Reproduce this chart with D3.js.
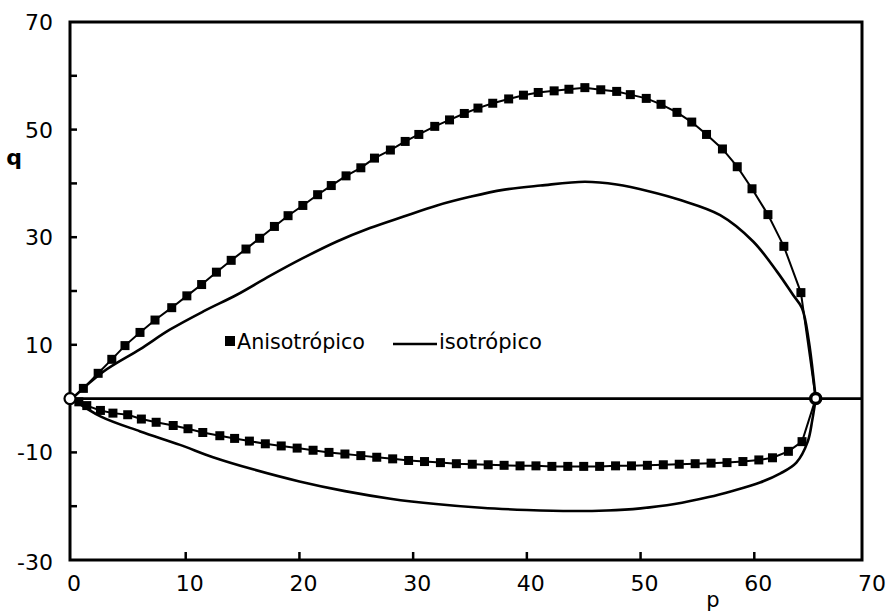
<!DOCTYPE html>
<html>
<head>
<meta charset="utf-8">
<script src="https://cdn.jsdelivr.net/npm/d3@7/dist/d3.min.js"></script>
<style>
  html, body { margin: 0; padding: 0; background: #fff; }
  svg { display: block; }
  text { font-family: "DejaVu Sans", "Open Sans", sans-serif; fill: #000; }
</style>
</head>
<body>
<svg id="chart" width="888" height="612"></svg>
<script>
// ---- data ----
const xTicks = [0, 10, 20, 30, 40, 50, 60, 70];
const yTickLabels = [70, 50, 30, 10, -10, -30];
const yMinorTicks = [60, 50, 40, 30, 20, 10, -10, -20];

// Anisotropic, upper branch (square markers)
const anisoUpperP = [0, 1.0, 2.3, 3.5, 4.66, 5.98, 7.3, 8.77, 10.1, 11.4, 12.7, 14.0, 15.3, 16.5, 17.8, 19.0, 20.3, 21.6, 22.8, 24.1, 25.4, 26.6, 28.0, 29.3, 30.5, 31.9, 33.2, 34.5, 35.7, 37.0, 38.4, 39.7, 41.0, 42.4, 43.7, 45.1, 46.5, 47.9, 49.1, 50.5, 51.8, 53.2, 54.5, 55.8, 57.2, 58.5, 59.8, 61.2, 62.6, 64.1, 65.4];
const anisoUpperQ = [0, 1.9, 4.7, 7.3, 9.85, 12.3, 14.6, 16.9, 19.1, 21.2, 23.5, 25.7, 27.8, 29.8, 32.0, 34.0, 35.9, 37.9, 39.6, 41.4, 42.9, 44.7, 46.2, 47.8, 49.1, 50.6, 51.8, 53.0, 54.0, 54.9, 55.7, 56.4, 56.9, 57.2, 57.5, 57.8, 57.4, 57.1, 56.5, 55.8, 54.7, 53.2, 51.4, 49.1, 46.4, 43.1, 39.0, 34.2, 28.3, 19.7, 0];

// Anisotropic, lower branch (square markers)
const anisoLowerP = [0, 0.6, 1.3, 2.5, 3.6, 4.9, 6.1, 7.4, 8.9, 10.2, 11.5, 13.0, 14.3, 15.6, 17.0, 18.4, 19.8, 21.2, 22.6, 24.0, 25.4, 26.8, 28.2, 29.6, 31.0, 32.4, 33.8, 35.2, 36.6, 38.0, 39.4, 40.8, 42.2, 43.6, 45.0, 46.4, 47.8, 49.2, 50.6, 52.0, 53.4, 54.8, 56.2, 57.6, 59.0, 60.4, 61.6, 63.0, 64.2, 65.4];
const anisoLowerQ = [0, -0.6, -1.3, -2.2, -2.7, -3.0, -3.8, -4.4, -5.0, -5.6, -6.3, -6.9, -7.4, -7.9, -8.4, -8.8, -9.2, -9.6, -10.0, -10.3, -10.6, -10.9, -11.2, -11.5, -11.7, -11.9, -12.1, -12.2, -12.3, -12.4, -12.5, -12.5, -12.6, -12.6, -12.6, -12.6, -12.5, -12.5, -12.4, -12.3, -12.2, -12.1, -12.0, -11.9, -11.7, -11.4, -11.0, -9.8, -8.0, 0];

// Isotropic, upper branch (solid line)
const isoUpperP = [0, 2.75, 6.0, 8.6, 11.55, 14.5, 17.4, 20.3, 23.3, 26.2, 29.1, 32.1, 35.0, 37.9, 41.2, 45.1, 47.9, 50.8, 53.5, 57.0, 59.9, 62.0, 63.4, 64.2, 64.8, 65.4];
const isoUpperQ = [0, 5.0, 9.2, 12.8, 16.2, 19.3, 22.8, 26.1, 29.2, 31.7, 33.8, 35.9, 37.5, 38.8, 39.6, 40.3, 39.8, 38.5, 36.9, 34.1, 29.2, 23.6, 19.3, 16.8, 10.6, 0];

// Isotropic, lower branch (solid line)
const isoLowerP = [0, 2.5, 6.0, 9.5, 12.4, 16, 20, 24, 28, 32, 36, 40, 44, 47, 50, 53, 56, 58, 60.5, 62.3, 63.7, 64.7, 65.1, 65.4];
const isoLowerQ = [0, -3.3, -6.1, -8.6, -10.9, -13.2, -15.4, -17.2, -18.6, -19.6, -20.3, -20.7, -20.9, -20.8, -20.4, -19.6, -18.3, -17.2, -15.6, -13.9, -11.9, -8.0, -4.0, 0];

const legendLabels = ["Anisotrópico", "isotrópico"];
const xAxisTitle = "p";
const yAxisTitle = "q";

// ---- layout ----
const svg = d3.select("#chart");
const x = d3.scaleLinear().domain([0, 70]).range([72, 868]);
const y = d3.scaleLinear().domain([-30, 70]).range([560, 22]);
const xLeft = 70, xRight = 862;

const zip = (P, Q) => P.map((p, i) => [p, Q[i]]);

// frame
svg.append("rect")
  .attr("x", xLeft).attr("y", y(70))
  .attr("width", xRight - xLeft).attr("height", y(-30) - y(70))
  .attr("fill", "none").attr("stroke", "#000").attr("stroke-width", 3);

// zero line
svg.append("line")
  .attr("x1", xLeft).attr("x2", xRight)
  .attr("y1", y(0)).attr("y2", y(0))
  .attr("stroke", "#000").attr("stroke-width", 2.6);

// y ticks (inward) & labels
svg.selectAll(".ytick").data(yMinorTicks).enter().append("line")
  .attr("x1", xLeft).attr("x2", xLeft + 7)
  .attr("y1", d => y(d)).attr("y2", d => y(d))
  .attr("stroke", "#000").attr("stroke-width", 2.5);
svg.selectAll(".ylab").data(yTickLabels).enter().append("text")
  .attr("x", 53).attr("y", d => y(d) + (d === -30 ? 2 : 0))
  .attr("dy", "0.36em")
  .attr("text-anchor", "end")
  .attr("font-size", 22)
  .text(d => d);

// x ticks (inward) & labels
svg.selectAll(".xtick").data(xTicks.filter(d => d > 0 && d < 70)).enter().append("line")
  .attr("x1", d => x(d)).attr("x2", d => x(d))
  .attr("y1", y(-30)).attr("y2", y(-30) - 8)
  .attr("stroke", "#000").attr("stroke-width", 2.5);
svg.selectAll(".xlab").data(xTicks).enter().append("text")
  .attr("x", d => x(d) + (d === 0 ? 2 : 4)).attr("y", 583)
  .attr("dy", "0.36em")
  .attr("text-anchor", "middle")
  .attr("font-size", 22)
  .text(d => d);

// axis titles
svg.append("text").attr("x", 14).attr("y", 157).attr("dy", "0.36em")
  .attr("text-anchor", "middle").attr("font-size", 22).attr("font-weight", "bold").text(yAxisTitle);
svg.append("text").attr("x", 713).attr("y", 601).attr("dy", "0.3em")
  .attr("text-anchor", "middle").attr("font-size", 21).text(xAxisTitle);

// curves
const smooth = d3.line().x(d => x(d[0])).y(d => y(d[1])).curve(d3.curveCatmullRom.alpha(0.5));
const straight = d3.line().x(d => x(d[0])).y(d => y(d[1]));

[zip(isoUpperP, isoUpperQ), zip(isoLowerP, isoLowerQ)].forEach(data => {
  svg.append("path").attr("d", smooth(data))
    .attr("fill", "none").attr("stroke", "#000").attr("stroke-width", 2.6);
});

[zip(anisoUpperP, anisoUpperQ), zip(anisoLowerP, anisoLowerQ)].forEach(data => {
  svg.append("path").attr("d", straight(data))
    .attr("fill", "none").attr("stroke", "#000").attr("stroke-width", 2);
  svg.append("g").selectAll("rect")
    .data(data.filter(d => !(d[0] === 0 || d[0] === 65.4))).enter().append("rect")
    .attr("x", d => x(d[0]) - 4.5).attr("y", d => y(d[1]) - 4.5)
    .attr("width", 9).attr("height", 9)
    .attr("fill", "#000");
});

// end circles
svg.append("circle").attr("cx", x(65.4)).attr("cy", y(0)).attr("r", 5)
  .attr("fill", "#fff").attr("stroke", "#000").attr("stroke-width", 3.5);
svg.append("circle").attr("cx", xLeft).attr("cy", y(0)).attr("r", 5.5)
  .attr("fill", "#fff").attr("stroke", "#000").attr("stroke-width", 2.2);

// legend
svg.append("rect").attr("x", 225).attr("y", 336).attr("width", 10).attr("height", 10).attr("fill", "#000");
svg.append("text").attr("x", 237).attr("y", 342).attr("dy", "0.36em")
  .attr("font-size", 20.5).attr("textLength", 128).attr("lengthAdjust", "spacingAndGlyphs")
  .text(legendLabels[0]);
svg.append("line").attr("x1", 393).attr("x2", 437).attr("y1", 344).attr("y2", 344)
  .attr("stroke", "#000").attr("stroke-width", 2.4);
svg.append("text").attr("x", 439).attr("y", 342).attr("dy", "0.36em")
  .attr("font-size", 20.5).attr("textLength", 103).attr("lengthAdjust", "spacingAndGlyphs")
  .text(legendLabels[1]);
</script>
</body>
</html>
